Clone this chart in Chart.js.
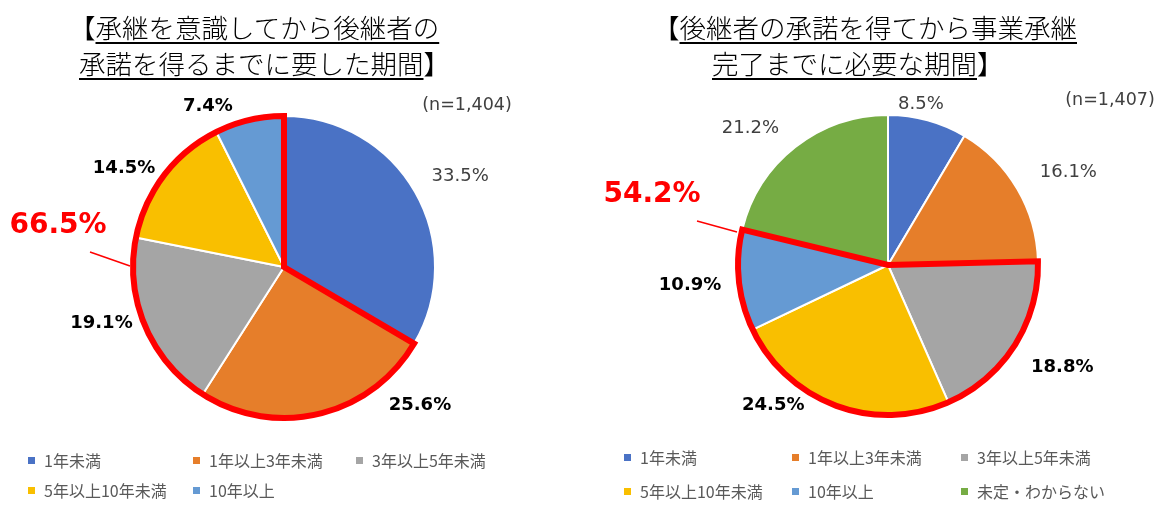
<!DOCTYPE html>
<html><head><meta charset="utf-8">
<script src="https://cdn.jsdelivr.net/npm/chart.js@4.4.1/dist/chart.umd.min.js"></script>
<style>
html,body{margin:0;padding:0;background:#fff;}
#wrap{position:relative;width:1173px;height:508px;overflow:hidden;font-family:"Noto Sans CJK JP",sans-serif;}
canvas{position:absolute;top:0;}
.tl{position:absolute;font-size:26.5px;line-height:36px;height:36px;color:#000;white-space:nowrap;font-weight:300;}
.tl u{text-decoration-thickness:1.5px;text-underline-offset:4px;}
.leg{position:absolute;height:20px;font-size:16px;line-height:20px;color:#595959;white-space:nowrap;}
.leg i{position:absolute;left:0;top:7px;width:7px;height:7px;}
.leg span{position:absolute;left:16px;top:0;}
</style></head>
<body><div id="wrap">
<canvas id="c1" width="586" height="508" style="left:0"></canvas>
<canvas id="c2" width="587" height="508" style="left:586px"></canvas>
<div class="tl" style="left:69px;top:9px">【<u>承継を意識してから後継者の</u></div>
<div class="tl" style="left:79px;top:45px"><u>承諾を得るまでに要した期間</u>】</div>
<div class="tl" style="left:653px;top:9px">【<u>後継者の承諾を得てから事業承継</u></div>
<div class="tl" style="left:712px;top:45px"><u>完了までに必要な期間</u>】</div>
</div>
<script>
// ---- data ----
const categoriesLeft = ['1年未満','1年以上3年未満','3年以上5年未満','5年以上10年未満','10年以上'];
const valuesLeft = [33.5, 25.6, 19.1, 14.5, 7.4];
const highlightLeft = [1, 2, 3, 4];
const totalLeft = '66.5%';
const sampleLeft = '(n=1,404)';

const categoriesRight = ['1年未満','1年以上3年未満','3年以上5年未満','5年以上10年未満','10年以上','未定・わからない'];
const valuesRight = [8.5, 16.1, 18.8, 24.5, 10.9, 21.2];
const highlightRight = [2, 3, 4];
const totalRight = '54.2%';
const sampleRight = '(n=1,407)';

const colors = ['#4A72C5','#E67E2A','#A5A5A5','#F9BF00','#659AD3','#76AC44'];

// ---- layout / style ----
const layoutLeft = {
  padding:{left:132, top:115, right:150, bottom:89},
  labelNudge:[[2.6,198],[-31,194],[6,191],[-5.6,188],[-12,178]],
  leader:[[-194,-15],[-154,-1]], callout:[-226,-41], sample:[183,-162]
};
const layoutRight = {
  padding:{left:151, top:114, right:134, bottom:92},
  labelNudge:[[-3.7,164],[3.1,203],[-2,202],[19,181],[0,199],[-7,194]],
  leader:[[-191,-44],[-151,-33]], callout:[-236,-70], sample:[222,-165]
};

function makePlugin(values, highlight, total, sample, L){
  return {
    id:'decor',
    afterDatasetsDraw(chart){
      const ctx = chart.ctx;
      const arcs = chart.getDatasetMeta(0).data;
      const cx = arcs[0].x, cy = arcs[0].y, r = arcs[0].outerRadius;
      const s = arcs[highlight[0]].startAngle, e = arcs[highlight[highlight.length-1]].endAngle;
      ctx.save();
      ctx.beginPath();
      ctx.moveTo(cx, cy);
      ctx.lineTo(cx + r*Math.cos(s), cy + r*Math.sin(s));
      ctx.arc(cx, cy, r, s, e);
      ctx.closePath();
      ctx.lineWidth = 6; ctx.strokeStyle = '#FF0000'; ctx.lineJoin = 'miter';
      ctx.stroke();
      ctx.beginPath();
      ctx.moveTo(cx + L.leader[0][0], cy + L.leader[0][1]);
      ctx.lineTo(cx + L.leader[1][0], cy + L.leader[1][1]);
      ctx.lineWidth = 1.5; ctx.stroke();
      ctx.fillStyle = '#FF0000';
      ctx.font = 'bold 28px "DejaVu Sans"';
      ctx.textAlign = 'center'; ctx.textBaseline = 'middle';
      ctx.fillText(total, cx + L.callout[0], cy + L.callout[1]);
      arcs.forEach((a, i) => {
        const mid = (a.startAngle + a.endAngle)/2 + L.labelNudge[i][0]*Math.PI/180;
        const d = L.labelNudge[i][1];
        const bold = highlight.includes(i);
        ctx.font = (bold ? 'bold ' : '') + '18px "DejaVu Sans"';
        ctx.fillStyle = bold ? '#000000' : '#404040';
        ctx.fillText(values[i].toFixed(1) + '%', cx + d*Math.cos(mid), cy + d*Math.sin(mid));
      });
      ctx.font = '17.5px "DejaVu Sans"';
      ctx.fillStyle = '#404040';
      ctx.fillText(sample, cx + L.sample[0], cy + L.sample[1]);
      ctx.restore();
    }
  };
}

function makeChart(id, cats, values, highlight, total, sample, L){
  return new Chart(document.getElementById(id), {
    type:'pie',
    data:{labels:cats, datasets:[{data:values, backgroundColor:colors.slice(0, values.length),
      borderColor:'#FFFFFF', borderWidth:2}]},
    options:{responsive:false, animation:false, layout:{padding:L.padding},
      plugins:{legend:{display:false}, tooltip:{enabled:false}}},
    plugins:[makePlugin(values, highlight, total, sample, L)]
  });
}
makeChart('c1', categoriesLeft, valuesLeft, highlightLeft, totalLeft, sampleLeft, layoutLeft);
makeChart('c2', categoriesRight, valuesRight, highlightRight, totalRight, sampleRight, layoutRight);

function legend(cats, xs, ys){
  const wrap = document.getElementById('wrap');
  cats.forEach((c, i) => {
    const d = document.createElement('div');
    d.className = 'leg';
    d.style.left = xs[i % 3] + 'px';
    d.style.top = (ys[Math.floor(i/3)] - 10) + 'px';
    d.innerHTML = '<i style="background:' + colors[i] + '"></i><span>' + c + '</span>';
    wrap.appendChild(d);
  });
}
legend(categoriesLeft, [28, 193, 356], [460, 490]);
legend(categoriesRight, [624, 792, 961], [457, 491]);
</script>
</body></html>
